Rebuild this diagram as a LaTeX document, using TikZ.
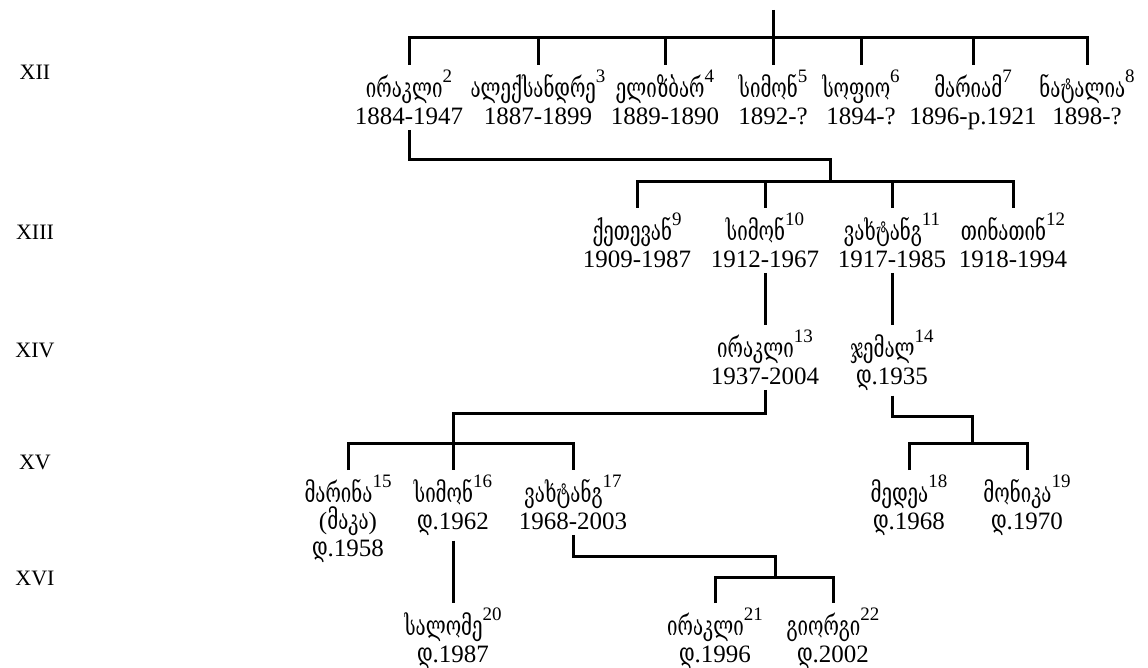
\documentclass[tikz,border=0pt]{standalone}
\usepackage{fontspec}
\setmainfont{Liberation Serif}
\newfontfamily\geo[Scale=1.1, FakeStretch=0.68]{DejaVu Serif}
\usetikzlibrary{positioning}
\newcommand{\gname}[2]{{\geo #1}\raisebox{15pt}{\fontsize{19}{19}\selectfont #2}}
\newcommand{\born}{{\geo დ}}

\begin{document}
\begin{tikzpicture}[x=1pt, y=-1pt,
    person/.style={anchor=north, align=center, inner sep=0pt, outer sep=5pt,
                   font=\fontsize{25}{27}\selectfont},
    gen/.style={font=\fontsize{22}{22}\selectfont},
    link/.style={line width=3pt}]

    \useasboundingbox[fill=white] (0,0) rectangle (1148,668);

    % === GENERATIONS ===
    \node[gen] (genXII) at (35,72) {XII};
    \node[gen] (genXIII) at (35,232) {XIII};
    \node[gen] (genXIV) at (35,350) {XIV};
    \node[gen] (genXV) at (35,462) {XV};
    \node[gen] (genXVI) at (35,578) {XVI};

    % === XII ===
    \node[person] (irakli2) at (409,65) {\gname{ირაკლი}{2}\\1884-1947};
    \node[person] (aleksandre3) at (538,65) {\gname{ალექსანდრე}{3}\\1887-1899};
    \node[person] (elizbar4) at (665,65) {\gname{ელიზბარ}{4}\\1889-1890};
    \node[person] (simon5) at (773,65) {\gname{სიმონ}{5}\\1892-?};
    \node[person] (sopio6) at (861,65) {\gname{სოფიო}{6}\\1894-?};
    \node[person] (mariam7) at (973,65) {\gname{მარიამ}{7}\\1896-p.1921};
    \node[person] (natalia8) at (1087,65) {\gname{ნატალია}{8}\\1898-?};

    % === XIII ===
    \node[person] (ketevan9) at (637,208) {\gname{ქეთევან}{9}\\1909-1987};
    \node[person] (simon10) at (765,208) {\gname{სიმონ}{10}\\1912-1967};
    \node[person] (vakhtang11) at (892,208) {\gname{ვახტანგ}{11}\\1917-1985};
    \node[person] (tinatin12) at (1013,208) {\gname{თინათინ}{12}\\1918-1994};

    % === XIV ===
    \node[person] (irakli13) at (765,325) {\gname{ირაკლი}{13}\\1937-2004};
    \node[person] (jemal14) at (892,325) {\gname{ჯემალ}{14}\\\born.1935};

    % === XV ===
    \node[person] (marina15) at (348,470) {\gname{მარინა}{15}\\({\geo მაკა})\\\born.1958};
    \node[person] (simon16) at (453,470) {\gname{სიმონ}{16}\\\born.1962};
    \node[person] (vakhtang17) at (573,470) {\gname{ვახტანგ}{17}\\1968-2003};
    \node[person] (medea18) at (909,470) {\gname{მედეა}{18}\\\born.1968};
    \node[person] (monika19) at (1027,470) {\gname{მონიკა}{19}\\\born.1970};

    % === XVI ===
    \node[person] (salome20) at (453,603) {\gname{სალომე}{20}\\\born.1987};
    \node[person] (irakli21) at (715,603) {\gname{ირაკლი}{21}\\\born.1996};
    \node[person] (giorgi22) at (833,603) {\gname{გიორგი}{22}\\\born.2002};

    % === LINKS ===
    \coordinate (root) at (773,10);
    \coordinate (bar12) at (773,38);
    \draw[link] (root) -- (simon5.north);
    \draw[link] (irakli2.north) |- (bar12) -| (natalia8.north);
    \foreach \k in {aleksandre3, elizbar4, sopio6, mariam7}
        \draw[link] (\k.north) -- (\k.north |- bar12);

    \coordinate (turn13) at (830,160);
    \coordinate (bar13) at (830,182);
    \draw[link] (irakli2.south) |- (turn13) -- (bar13);
    \draw[link] (ketevan9.north) |- (bar13) -| (tinatin12.north);
    \foreach \k in {simon10, vakhtang11}
        \draw[link] (\k.north) -- (\k.north |- bar13);

    \draw[link] (simon10.south) -- (irakli13.north);
    \draw[link] (vakhtang11.south) -- (jemal14.north);

    \coordinate (turn15) at (453,413);
    \coordinate (bar15) at (453,443);
    \draw[link] (irakli13.south) |- (turn15) -- (simon16.north);
    \draw[link] (marina15.north) |- (bar15) -| (vakhtang17.north);

    \coordinate (turn18) at (972,416);
    \coordinate (bar18) at (972,443);
    \draw[link] (jemal14.south) |- (turn18) -- (bar18);
    \draw[link] (medea18.north) |- (bar18) -| (monika19.north);

    \draw[link] (simon16.south) -- (salome20.north);

    \coordinate (turn21) at (775,556);
    \coordinate (bar21) at (775,577);
    \draw[link] (vakhtang17.south) |- (turn21) -- (bar21);
    \draw[link] (irakli21.north) |- (bar21) -| (giorgi22.north);

\end{tikzpicture}
\end{document}
